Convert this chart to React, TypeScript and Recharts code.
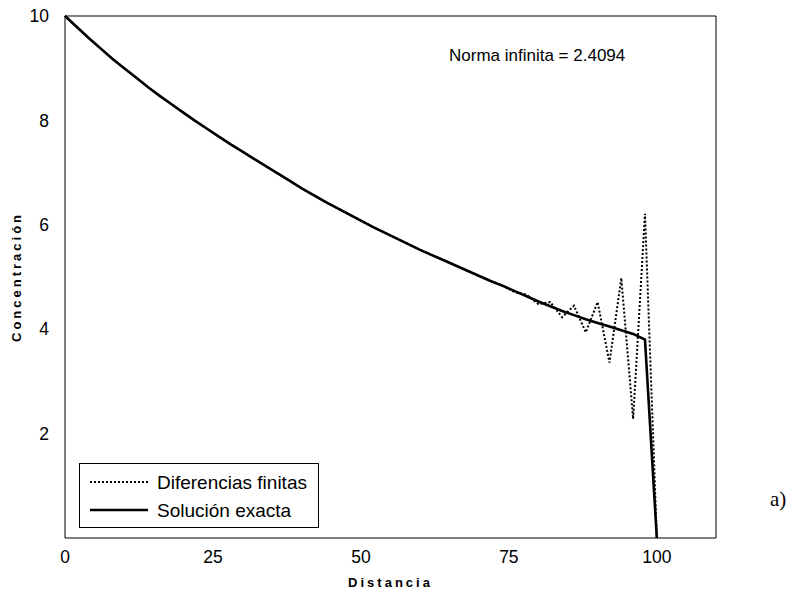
import React from 'react';
import { LineChart, Line, XAxis, YAxis } from 'recharts';

// Grid nodes along the domain (h = 2)
const distancia = [
  0, 2, 4, 6, 8, 10, 12, 14, 16, 18, 20, 22, 24, 26, 28, 30, 32, 34, 36, 38, 40,
  42, 44, 46, 48, 50, 52, 54, 56, 58, 60, 62, 64, 66, 68, 70, 72, 74, 76, 78, 80,
  82, 84, 86, 88, 90, 92, 94, 96, 98, 100,
];

// Exact solution at the grid nodes
const solucionExacta = [
  10.0, 9.79, 9.58, 9.38, 9.18, 9.0, 8.82, 8.64, 8.47, 8.31, 8.15, 7.99, 7.84,
  7.69, 7.54, 7.4, 7.26, 7.12, 6.98, 6.84, 6.7, 6.57, 6.44, 6.32, 6.2, 6.08,
  5.96, 5.85, 5.74, 5.63, 5.52, 5.42, 5.32, 5.22, 5.12, 5.02, 4.92, 4.83, 4.73,
  4.63, 4.53, 4.44, 4.35, 4.27, 4.19, 4.12, 4.05, 3.98, 3.91, 3.8, 0.0,
];

// Finite-difference approximation (oscillates near the outflow boundary)
const diferenciasFinitas = [
  10.0, 9.79, 9.58, 9.38, 9.18, 9.0, 8.82, 8.64, 8.47, 8.31, 8.15, 7.99, 7.84,
  7.69, 7.54, 7.4, 7.26, 7.12, 6.98, 6.84, 6.7, 6.57, 6.44, 6.32, 6.2, 6.08,
  5.96, 5.85, 5.74, 5.63, 5.52, 5.42, 5.32, 5.22, 5.12, 5.02, 4.92, 4.83, 4.71,
  4.66, 4.48, 4.52, 4.23, 4.45, 3.94, 4.52, 3.36, 4.98, 2.28, 6.21, 0.0,
];

const xTicks = [0, 25, 50, 75, 100];
const yTicks = [2, 4, 6, 8, 10];
const xDomain: [number, number] = [0, 110];
const yDomain: [number, number] = [0, 10];
const normaInfinita = '2.4094';

const data = distancia.map((x, i) => ({
  x,
  exacta: solucionExacta[i],
  diferencias: diferenciasFinitas[i],
}));

const SANS = '"Liberation Sans", Arial, Helvetica, sans-serif';
const tickStyle = { fill: '#000', fontSize: 17.5, fontFamily: SANS };
const black = { stroke: '#000', strokeWidth: 1 };

const XTitle = (props: any) => {
  const vb = props.viewBox || { x: 65, y: 538, width: 651, height: 57 };
  return (
    <text
      x={vb.x + vb.width / 2}
      y={vb.y + 49}
      textAnchor="middle"
      fontFamily={SANS}
      fontSize={13}
      fontWeight="bold"
      letterSpacing={3}
      fill="#000"
    >
      Distancia
    </text>
  );
};

const YTitle = (props: any) => {
  const vb = props.viewBox || { x: 0, y: 16, width: 65, height: 522 };
  const cx = vb.x + 16;
  const cy = vb.y + vb.height / 2;
  return (
    <text
      x={cx}
      y={cy}
      transform={`rotate(-90, ${cx}, ${cy})`}
      textAnchor="middle"
      dominantBaseline="central"
      fontFamily={SANS}
      fontSize={13}
      fontWeight="bold"
      letterSpacing={3}
      fill="#000"
    >
      Concentración
    </text>
  );
};

export default function App() {
  return (
    <div style={{ position: 'absolute', left: 0, top: 0, width: 792, height: 595, background: '#fff' }}>
      <LineChart
        width={792}
        height={595}
        data={data}
        margin={{ top: 16, right: 76, bottom: 0, left: 0 }}
      >
        {/* labelled axes */}
        <XAxis
          dataKey="x"
          type="number"
          domain={xDomain}
          ticks={xTicks}
          interval={0}
          height={57}
          tickLine={false}
          tickMargin={7}
          axisLine={black}
          tick={tickStyle}
          label={XTitle}
        />
        <YAxis
          type="number"
          domain={yDomain}
          ticks={yTicks}
          interval={0}
          width={65}
          tickLine={false}
          tickMargin={10}
          axisLine={black}
          tick={tickStyle}
          label={YTitle}
        />
        {/* inward tick marks and box frame */}
        <XAxis
          xAxisId="bottomIn"
          orientation="bottom"
          mirror
          dataKey="x"
          type="number"
          domain={xDomain}
          ticks={xTicks}
          interval={0}
          height={30}
          tickSize={5}
          axisLine={false}
          tickLine={black}
          tick={false}
        />
        <XAxis
          xAxisId="top"
          orientation="top"
          mirror
          dataKey="x"
          type="number"
          domain={xDomain}
          ticks={xTicks}
          interval={0}
          height={30}
          tickSize={5}
          axisLine={black}
          tickLine={black}
          tick={false}
        />
        <YAxis
          yAxisId="leftIn"
          orientation="left"
          mirror
          type="number"
          domain={yDomain}
          ticks={yTicks}
          interval={0}
          width={30}
          tickSize={5}
          axisLine={false}
          tickLine={black}
          tick={false}
        />
        <YAxis
          yAxisId="right"
          orientation="right"
          mirror
          type="number"
          domain={yDomain}
          ticks={yTicks}
          interval={0}
          width={30}
          tickSize={5}
          axisLine={black}
          tickLine={black}
          tick={false}
        />
        <Line
          dataKey="diferencias"
          type="linear"
          stroke="#000"
          strokeWidth={2}
          strokeDasharray="2 2"
          dot={false}
          isAnimationActive={false}
        />
        <Line
          dataKey="exacta"
          type="linear"
          stroke="#000"
          strokeWidth={2.6}
          dot={false}
          isAnimationActive={false}
        />
      </LineChart>

      <div
        style={{
          position: 'absolute',
          left: 449,
          top: 46,
          fontFamily: SANS,
          fontSize: 17,
          color: '#000',
          whiteSpace: 'nowrap',
          lineHeight: '20px',
        }}
      >
        Norma infinita = {normaInfinita}
      </div>

      <div
        style={{
          position: 'absolute',
          left: 79,
          top: 463,
          width: 240,
          height: 65,
          boxSizing: 'border-box',
          border: '1px solid #000',
          background: '#fff',
        }}
      >
        <svg width={240} height={65} style={{ position: 'absolute', left: -1, top: -1 }}>
          <line x1={11} x2={69} y1={19} y2={19} stroke="#000" strokeWidth={2} strokeDasharray="2 2" />
          <line x1={11} x2={69} y1={47} y2={47} stroke="#000" strokeWidth={2.6} />
          <text x={78} y={19} dominantBaseline="central" fontFamily={SANS} fontSize={19} fill="#000">
            Diferencias finitas
          </text>
          <text x={78} y={47} dominantBaseline="central" fontFamily={SANS} fontSize={19} fill="#000">
            Solución exacta
          </text>
        </svg>
      </div>

      <div
        style={{
          position: 'absolute',
          left: 770,
          top: 487,
          fontFamily: '"Liberation Serif", "Times New Roman", serif',
          fontSize: 21,
          color: '#000',
          lineHeight: '24px',
        }}
      >
        a)
      </div>
    </div>
  );
}
